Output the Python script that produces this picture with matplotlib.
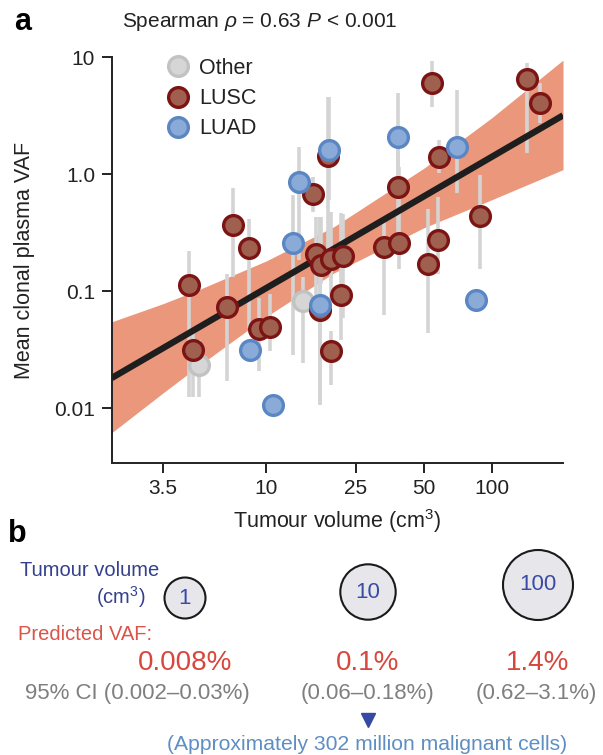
import matplotlib
matplotlib.use("Agg")
import matplotlib.pyplot as plt
from matplotlib.patches import Circle
from matplotlib.lines import Line2D
from matplotlib.ticker import FixedLocator, NullLocator, FixedFormatter

plt.rcParams['font.family'] = ['Liberation Sans', 'DejaVu Sans']
plt.rcParams['mathtext.fontset'] = 'custom'
plt.rcParams['mathtext.rm'] = 'Liberation Sans'
plt.rcParams['mathtext.it'] = 'Liberation Sans:italic'

# ---------------- data (panel a) ----------------
lusc_vol = [54.2, 142.9, 163.7, 58.6, 18.9, 16.1, 38.3, 7.15, 8.41, 88.7, 33.3, 39.0, 57.8,
            52.0, 16.6, 17.5, 19.4, 21.9, 4.56, 21.5, 6.68, 9.31, 10.4, 17.3, 4.75, 19.4]
lusc_vaf = [6.09, 6.51, 4.11, 1.42, 1.44, 0.68, 0.78, 0.37, 0.235, 0.44, 0.24, 0.26, 0.273,
            0.172, 0.211, 0.167, 0.19, 0.199, 0.1125, 0.0924, 0.073, 0.0475, 0.0497, 0.0688, 0.0313, 0.031]
lusc_lo = [3.80, 1.54, 2.75, 1.03, 0.226, 0.48, 0.25, 0.132, 0.049, 0.156, 0.063, 0.156, 0.141,
           0.044, 0.0846, 0.116, 0.0846, 0.0596, 0.0126, 0.0385, 0.017, 0.0207, 0.031, 0.0107, 0.0126, 0.0159]
lusc_hi = [9.39, 9.03, 6.05, 1.97, 4.6, 0.95, 1.97, 0.76, 0.418, 0.99, 0.433, 1.16, 0.64,
           0.51, 0.433, 0.433, 0.48, 0.46, 0.223, 0.469, 0.141, 0.0885, 0.095, 0.433, 0.0469, 0.046]

luad_vol = [19.0, 70.1, 38.5, 14.0, 13.1, 8.49, 17.3, 85.1, 10.7]
luad_vaf = [1.62, 1.72, 2.10, 0.863, 0.262, 0.0313, 0.0767, 0.0838, 0.0107]
luad_lo = [0.605, 0.695, 0.9, 0.186, 0.0286, 0.0313, 0.0107, 0.0838, 0.0107]
luad_hi = [4.6, 5.27, 4.97, 1.72, 0.668, 0.0313, 0.433, 0.0838, 0.0107]

other_vol = [5.05, 14.6]
other_vaf = [0.0235, 0.083]
other_lo = [0.0126, 0.0245]
other_hi = [0.0385, 0.132]

fit_vol = [2.07, 207]
fit_vaf = [0.0182, 3.2]
band_vol = [2.07, 3.5, 5, 10, 20, 50, 100, 207]
band_lo = [0.0062, 0.0136, 0.0229, 0.0608, 0.144, 0.35, 0.608, 1.1]
band_hi = [0.055, 0.0787, 0.103, 0.182, 0.358, 1.13, 3.05, 9.5]

x_ticks = [3.5, 10, 25, 50, 100]
x_ticklabels = ['3.5', '10', '25', '50', '100']
y_ticks = [0.01, 0.1, 1, 10]
y_ticklabels = ['0.01', '0.1', '1.0', '10']

# ---------------- data (panel b) ----------------
b_volumes = ['1', '10', '100']
b_pred = ['0.008%', '0.1%', '1.4%']
b_ci = ['95% CI (0.002–0.03%)', '(0.06–0.18%)', '(0.62–3.1%)']

W, H = 603, 755
fig = plt.figure(figsize=(W / 100, H / 100), dpi=100)

def fx(px):
    return px / W

def fy(py):
    return 1 - py / H

ax = fig.add_axes([fx(111.7), fy(462.5), fx(563) - fx(111.7), fy(57.5) - fy(462.5)])
ax.set_xscale('log')
ax.set_yscale('log')
ax.set_xlim(2.07, 207)
ax.set_ylim(0.00345, 10)

ax.fill_between(band_vol, band_lo, band_hi, color='#EA977C', lw=0, zorder=1)

bar_col = '#D4D4D4'
for vols, lo, hi in [(lusc_vol, lusc_lo, lusc_hi), (luad_vol, luad_lo, luad_hi),
                     (other_vol, other_lo, other_hi)]:
    ax.vlines(vols, lo, hi, color=bar_col, lw=2.6, zorder=2)

ax.plot(fit_vol, fit_vaf, color='#1E1E1E', lw=4.6, solid_capstyle='butt', zorder=3)

ms = 14.2
mew = 2.4
h_other, = ax.plot(other_vol, other_vaf, 'o', ms=ms, mew=mew, mfc='#D6D6D6', mec='#C2C2C2',
                   ls='none', zorder=4, label='Other')
h_lusc, = ax.plot(lusc_vol, lusc_vaf, 'o', ms=ms, mew=mew, mfc='#A0604F', mec='#7C1414',
                  ls='none', zorder=4, label='LUSC')
h_luad, = ax.plot(luad_vol, luad_vaf, 'o', ms=ms, mew=mew, mfc='#8AAAD8', mec='#5A87C4',
                  ls='none', zorder=5, label='LUAD')

for s in ['top', 'right']:
    ax.spines[s].set_visible(False)
for s in ['left', 'bottom']:
    ax.spines[s].set_linewidth(1.4)
    ax.spines[s].set_color('#222222')

ax.xaxis.set_major_locator(FixedLocator(x_ticks))
ax.xaxis.set_major_formatter(FixedFormatter(x_ticklabels))
ax.xaxis.set_minor_locator(NullLocator())
ax.yaxis.set_major_locator(FixedLocator(y_ticks))
ax.yaxis.set_major_formatter(FixedFormatter(y_ticklabels))
ax.yaxis.set_minor_locator(NullLocator())
ax.tick_params(axis='both', which='major', length=7, width=1.4, color='#222222',
               labelsize=15, labelcolor='#222222', pad=5)

ax.set_xlabel('Tumour volume (cm$^3$)', fontsize=15.5, color='#222222')
ax.set_ylabel('Mean clonal plasma VAF', fontsize=15.5, color='#222222')
ax.xaxis.set_label_coords(0.5, -0.11)
ax.yaxis.set_label_coords(-0.17, 0.5)

leg = ax.legend(handles=[h_other, h_lusc, h_luad], loc='upper left',
                bbox_to_anchor=(fx(167), fy(58)), bbox_transform=fig.transFigure,
                frameon=False, borderpad=0, borderaxespad=0, handlelength=1.0,
                handletextpad=0.5, labelspacing=0.42, fontsize=15.5)
for t in leg.get_texts():
    t.set_color('#222222')

fig.text(fx(14), fy(22), 'a', fontsize=22, fontweight='bold', va='center', ha='left')
fig.text(fx(122), fy(22), r'Spearman $\rho$ = 0.63 $P$ < 0.001', fontsize=15,
         va='center', ha='left', color='#222222')

# ---------------- panel b ----------------
navy = '#34408E'
red = '#D8473D'
grey = '#7F7F7F'
lblue = '#5E8EC2'

fig.text(fx(8), fy(534), 'b', fontsize=22, fontweight='bold', va='center', ha='left')
fig.text(fx(20), fy(570), 'Tumour volume', fontsize=14.5, color=navy, va='center', ha='left')
fig.text(fx(145), fy(597), '(cm$^3$)', fontsize=14.5, color=navy, va='center', ha='right')
fig.text(fx(18), fy(634), 'Predicted VAF:', fontsize=14.5, color='#DA5448', va='center', ha='left')

centers_x = [185, 368, 538]
circle_y = [598, 592, 585]
radii = [20.5, 27.7, 35]
for i in range(3):
    c = Circle((centers_x[i] / 100, (H - circle_y[i]) / 100), radii[i] / 100,
               transform=fig.dpi_scale_trans, facecolor='#E7E7EB', edgecolor='#1A1A1A', lw=1.5)
    fig.add_artist(c)
    fig.text(fx(centers_x[i]), fy(circle_y[i]), b_volumes[i], fontsize=16, color='#3A4BA6',
             va='center', ha='center')
    fig.text(fx(centers_x[i]), fy(663), b_pred[i], fontsize=20, color=red,
             va='center', ha='center')

fig.text(fx(137), fy(693), b_ci[0], fontsize=16, color=grey, va='center', ha='center')
fig.text(fx(368), fy(693), b_ci[1], fontsize=16, color=grey, va='center', ha='center')
fig.text(fx(536), fy(693), b_ci[2], fontsize=16, color=grey, va='center', ha='center')

fig.add_artist(Line2D([fx(368)], [fy(720)], marker='v', ms=10, color='#3649A3',
                      mec='#3649A3', transform=fig.transFigure, ls='none'))
fig.text(fx(367), fy(745), '(Approximately 302 million malignant cells)', fontsize=15.2,
         color=lblue, va='center', ha='center')

fig.savefig('out.png', dpi=100)
